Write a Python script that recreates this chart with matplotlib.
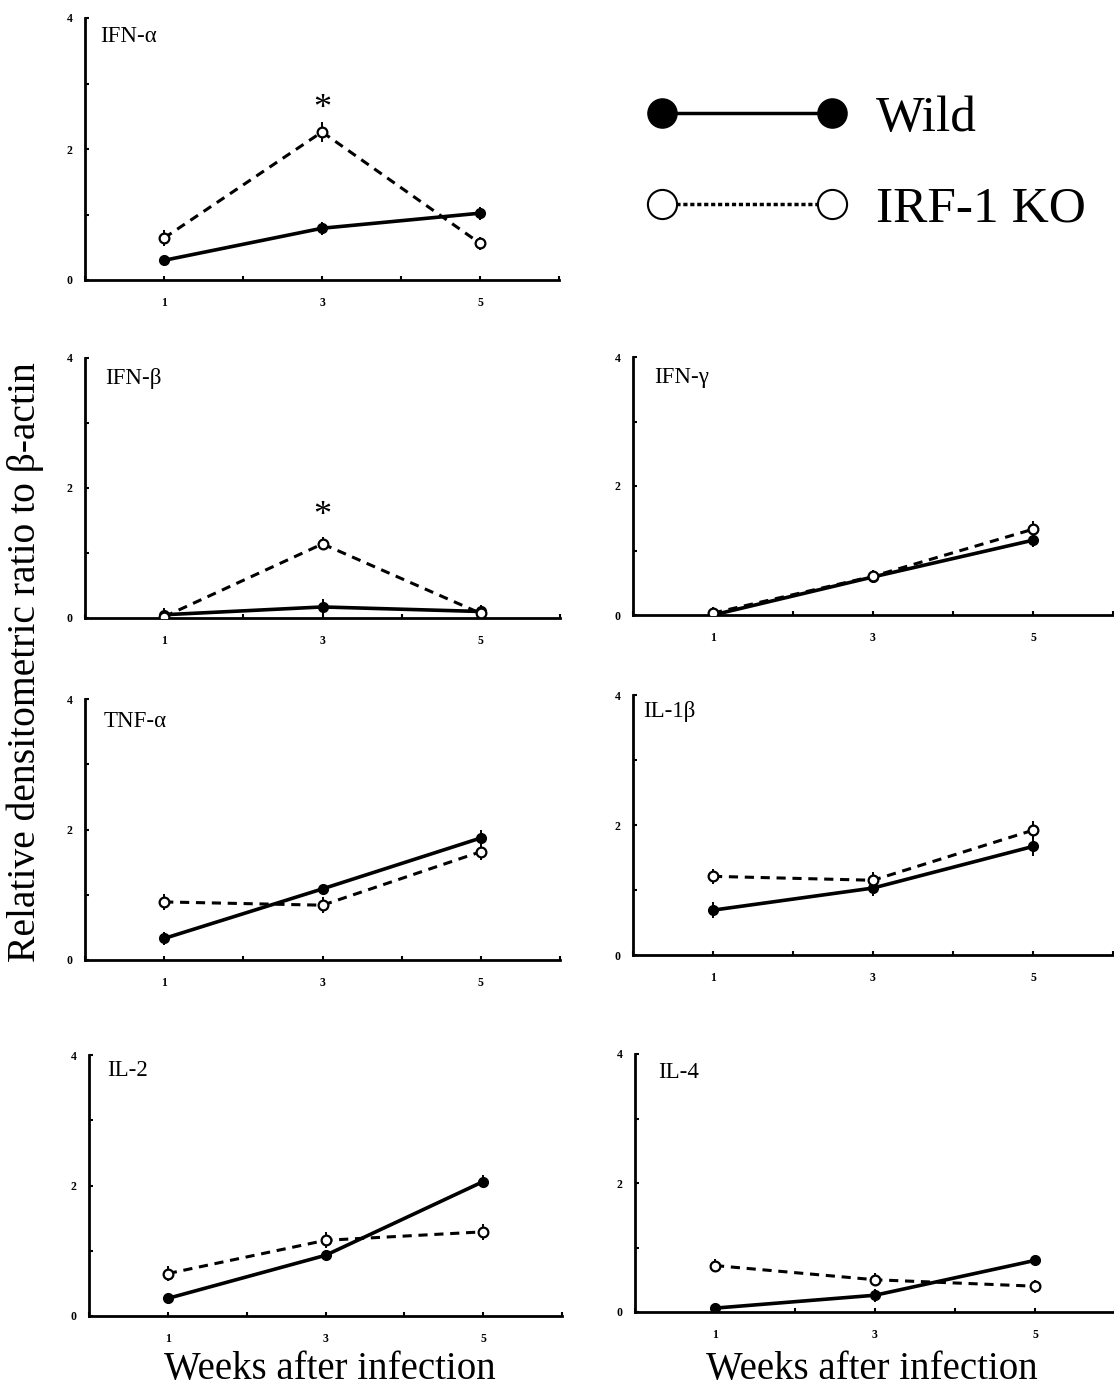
import matplotlib.pyplot as plt
from matplotlib.lines import Line2D

plt.rcParams['font.family'] = ['Liberation Serif', 'DejaVu Serif']

weeks = [1, 3, 5]

# panel name -> values at weeks 1, 3, 5
names = ['IFN-α', 'IFN-β', 'IFN-γ', 'TNF-α', 'IL-1β', 'IL-2', 'IL-4']
wild = {
    'IFN-α': [0.30, 0.79, 1.02],
    'IFN-β': [0.05, 0.17, 0.10],
    'IFN-γ': [0.00, 0.59, 1.16],
    'TNF-α': [0.33, 1.09, 1.87],
    'IL-1β': [0.69, 1.03, 1.67],
    'IL-2':  [0.27, 0.93, 2.06],
    'IL-4':  [0.06, 0.26, 0.80],
}
wild_err = {
    'IFN-α': [0.08, 0.10, 0.10],
    'IFN-β': [0.10, 0.12, 0.10],
    'IFN-γ': [0.08, 0.08, 0.10],
    'TNF-α': [0.10, 0.08, 0.12],
    'IL-1β': [0.12, 0.12, 0.14],
    'IL-2':  [0.08, 0.08, 0.10],
    'IL-4':  [0.08, 0.10, 0.08],
}
ko = {
    'IFN-α': [0.64, 2.26, 0.56],
    'IFN-β': [0.02, 1.14, 0.07],
    'IFN-γ': [0.03, 0.60, 1.33],
    'TNF-α': [0.89, 0.84, 1.66],
    'IL-1β': [1.21, 1.15, 1.92],
    'IL-2':  [0.65, 1.16, 1.29],
    'IL-4':  [0.72, 0.50, 0.40],
}
ko_err = {
    'IFN-α': [0.12, 0.15, 0.10],
    'IFN-β': [0.08, 0.10, 0.08],
    'IFN-γ': [0.10, 0.10, 0.12],
    'TNF-α': [0.12, 0.12, 0.12],
    'IL-1β': [0.12, 0.12, 0.14],
    'IL-2':  [0.12, 0.12, 0.12],
    'IL-4':  [0.10, 0.10, 0.10],
}
# significant difference marks (week, height)
stars = {'IFN-α': (3, 2.60), 'IFN-β': (3, 1.56)}

# where each panel name sits (x, y in data units)
label_pos = {
    'IFN-α': (0.19, 3.72), 'IFN-β': (0.25, 3.69), 'IFN-γ': (0.27, 3.68),
    'TNF-α': (0.23, 3.65), 'IL-1β': (0.13, 3.74), 'IL-2': (0.23, 3.77),
    'IL-4': (0.29, 3.72),
}

W, H = 1114, 1389
fig = plt.figure(figsize=(W / 100, H / 100), dpi=100)

# axes boxes in pixels: left, top, right, bottom
boxes = {
    'IFN-α': (85, 18, 559, 280),
    'IFN-β': (85, 358, 560, 618),
    'IFN-γ': (633, 357, 1113, 615),
    'TNF-α': (85, 699, 560, 960),
    'IL-1β': (633, 695, 1113, 955),
    'IL-2':  (89, 1055, 562, 1316),
    'IL-4':  (635, 1054, 1115, 1312),
}


def add_ax(box):
    l, t, r, b = box
    return fig.add_axes([l / W, 1 - b / H, (r - l) / W, (b - t) / H])


for name in names:
    ax = add_ax(boxes[name])
    ax.errorbar(weeks, wild[name], yerr=wild_err[name], color='black', lw=2.6,
                marker='o', ms=7, mfc='black', mec='black', elinewidth=1.4,
                capsize=0, zorder=3)
    ax.errorbar(weeks, ko[name], yerr=ko_err[name], color='black', lw=2.2,
                ls=(0, (3, 2.2)), marker='o', ms=7, mfc='white', mec='black',
                mew=1.6, elinewidth=1.4, capsize=0, zorder=4)
    if name in stars:
        sx, sy = stars[name]
        ax.text(sx, sy, '*', ha='center', va='center', fontsize=26)
    lx, ly = label_pos[name]
    ax.text(lx, ly, name, fontsize=16.5, va='center', ha='left')
    ax.set_xlim(0, 6)
    ax.set_ylim(0, 4)
    ax.set_xticks(range(0, 7))
    ax.set_xticklabels(['', '1', '', '3', '', '5', ''])
    ax.set_yticks(range(0, 5))
    ax.set_yticklabels(['0', '', '2', '', '4'])
    ax.tick_params(direction='in', length=3, width=1.5, labelsize=8.5)
    ax.tick_params(axis='x', pad=12)
    ax.tick_params(axis='y', pad=9)
    for lab in ax.get_xticklabels() + ax.get_yticklabels():
        lab.set_fontweight('bold')
    for s in ['top', 'right']:
        ax.spines[s].set_visible(False)
    for s in ['left', 'bottom']:
        ax.spines[s].set_linewidth(2)
    ax.patch.set_alpha(0)

# legend
handles = [
    Line2D([], [], color='black', lw=2.5, marker='o', ms=21, mfc='black'),
    Line2D([], [], color='black', lw=2.5, ls=(0, (1.2, 0.8)), marker='o', ms=21,
           mfc='white', mew=1.5),
]
fig.legend(handles, ['Wild', 'IRF-1 KO'], loc='upper left',
           bbox_to_anchor=(647 / W, 1 - 95 / H), numpoints=2, handlelength=3.9,
           handletextpad=0.55, labelspacing=0.85, fontsize=37, frameon=False,
           borderaxespad=0, borderpad=0)

fig.text(25 / W, 1 - 662 / H, 'Relative densitometric ratio to β-actin',
         rotation=90, ha='center', va='center', fontsize=28.5)
fig.text(330 / W, 1 - 1370 / H, 'Weeks after infection', ha='center',
         va='center', fontsize=28)
fig.text(872 / W, 1 - 1370 / H, 'Weeks after infection', ha='center',
         va='center', fontsize=28)

fig.savefig('out.png', dpi=100)
